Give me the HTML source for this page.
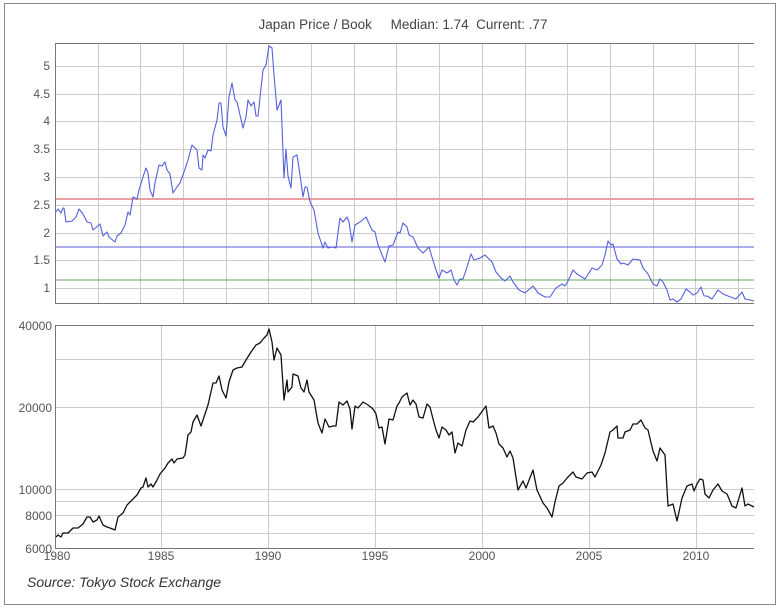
<!DOCTYPE html>
<html><head><meta charset="utf-8"><style>
html,body{margin:0;padding:0;background:#fff;}
svg{display:block;font-family:"Liberation Sans",sans-serif;}
</style></head><body>
<svg width="781" height="608" viewBox="0 0 781 608" xmlns="http://www.w3.org/2000/svg">
<rect x="4.5" y="3.5" width="771" height="601" fill="#fff" stroke="#888"/>
<text x="403" y="29" text-anchor="middle" font-size="13.5" fill="#444" xml:space="preserve">Japan Price / Book     Median: 1.74  Current: .77</text>
<g stroke="#ccc" stroke-width="1">
<line x1="55" x2="754" y1="66.5" y2="66.5"/><line x1="55" x2="754" y1="94.5" y2="94.5"/><line x1="55" x2="754" y1="121.5" y2="121.5"/><line x1="55" x2="754" y1="149.5" y2="149.5"/><line x1="55" x2="754" y1="177.5" y2="177.5"/><line x1="55" x2="754" y1="205.5" y2="205.5"/><line x1="55" x2="754" y1="233.5" y2="233.5"/><line x1="55" x2="754" y1="260.5" y2="260.5"/><line x1="55" x2="754" y1="288.5" y2="288.5"/>
<line x1="98.5" x2="98.5" y1="43" y2="303"/><line x1="140.5" x2="140.5" y1="43" y2="303"/><line x1="183.5" x2="183.5" y1="43" y2="303"/><line x1="226.5" x2="226.5" y1="43" y2="303"/><line x1="268.5" x2="268.5" y1="43" y2="303"/><line x1="311.5" x2="311.5" y1="43" y2="303"/><line x1="354.5" x2="354.5" y1="43" y2="303"/><line x1="396.5" x2="396.5" y1="43" y2="303"/><line x1="439.5" x2="439.5" y1="43" y2="303"/><line x1="482.5" x2="482.5" y1="43" y2="303"/><line x1="525.5" x2="525.5" y1="43" y2="303"/><line x1="567.5" x2="567.5" y1="43" y2="303"/><line x1="610.5" x2="610.5" y1="43" y2="303"/><line x1="653.5" x2="653.5" y1="43" y2="303"/><line x1="695.5" x2="695.5" y1="43" y2="303"/><line x1="738.5" x2="738.5" y1="43" y2="303"/>
<line x1="55" x2="754" y1="359.5" y2="359.5"/><line x1="55" x2="754" y1="407.5" y2="407.5"/><line x1="55" x2="754" y1="489.5" y2="489.5"/><line x1="55" x2="754" y1="501.5" y2="501.5"/><line x1="55" x2="754" y1="515.5" y2="515.5"/><line x1="55" x2="754" y1="533.5" y2="533.5"/>
<line x1="161.5" x2="161.5" y1="325" y2="548"/><line x1="268.5" x2="268.5" y1="325" y2="548"/><line x1="375.5" x2="375.5" y1="325" y2="548"/><line x1="482.5" x2="482.5" y1="325" y2="548"/><line x1="589.5" x2="589.5" y1="325" y2="548"/><line x1="696.5" x2="696.5" y1="325" y2="548"/>
</g>
<line x1="55" x2="754" y1="199" y2="199" stroke="#e8a0a0" stroke-width="2"/>
<line x1="55" x2="754" y1="247" y2="247" stroke="#5a5ad0" stroke-width="1"/>
<line x1="55" x2="754" y1="280" y2="280" stroke="#60b060" stroke-width="1"/>
<g stroke="#777" stroke-width="1" fill="none">
<polyline points="754,43.5 55.5,43.5 55.5,303.5 754,303.5"/>
<polyline points="754,325.5 55.5,325.5 55.5,548.5 754,548.5"/>
</g>
<g font-size="12" fill="#555" text-anchor="end">
<text x="50" y="70">5</text><text x="50" y="98">4.5</text><text x="50" y="125">4</text><text x="50" y="153">3.5</text><text x="50" y="181">3</text><text x="50" y="209">2.5</text><text x="50" y="237">2</text><text x="50" y="264">1.5</text><text x="50" y="292">1</text>
<text x="52" y="330">40000</text><text x="52" y="412">20000</text><text x="52" y="494">10000</text><text x="52" y="520">8000</text><text x="52" y="553">6000</text>
</g>
<g font-size="12" fill="#555" text-anchor="middle">
<text x="57" y="560">1980</text><text x="161" y="560">1985</text><text x="268" y="560">1990</text><text x="375" y="560">1995</text><text x="482" y="560">2000</text><text x="589" y="560">2005</text><text x="696" y="560">2010</text>
</g>
<polyline fill="none" stroke="#5560dd" stroke-width="1.1" stroke-linejoin="round" points="56,212 58,209 61,213 63,208 64,208 66,222 72,221 76,217 79,209 83,214 87,222 91,223 93,230 100,224 103,236 107,232 109,237 115,242 117,236 121,233 125,225 128,212 130,215 133,197 137,199 139,190 143,177 146,168 148,173 150,190 153,197 155,183 159,165 162,166 165,162 167,170 170,174 173,193 177,187 180,183 184,172 188,160 192,145 197,150 199,168 202,170 203,155 205,158 208,150 211,151 213,135 217,120 219,103 221,103 223,127 226,136 229,97 232,83 235,100 237,102 243,128 246,117 248,100 251,106 254,102 256,116 258,116 263,70 266,65 269,46 272,48 274,75 277,110 281,100 284,178 286,149 288,176 291,188 293,157 297,155 300,175 303,197 305,187 307,187 310,202 314,210 318,233 323,248 325,242 328,248 332,247 336,248 340,218 343,222 347,217 349,222 352,242 355,225 360,222 366,217 372,230 375,232 378,245 385,262 389,246 393,245 398,232 400,233 403,223 407,227 409,235 413,237 418,248 423,253 429,247 435,267 439,278 442,270 447,273 451,270 454,280 457,285 460,279 463,279 467,267 471,254 474,260 480,258 485,255 492,262 496,272 501,278 505,281 510,276 513,282 519,290 525,293 533,286 538,293 545,297 550,297 556,288 562,284 565,286 568,281 573,270 577,274 585,279 592,268 597,270 602,265 605,255 608,241 611,245 613,244 617,259 621,264 623,263 628,265 633,259 640,260 643,268 648,274 653,284 657,286 660,279 663,282 667,290 670,300 673,299 677,302 681,299 686,289 690,292 693,295 697,293 701,287 704,296 707,296 712,299 718,290 723,294 728,296 736,299 742,292 745,299 750,300 754,301"/>
<polyline fill="none" stroke="#111" stroke-width="1.3" stroke-linejoin="round" points="56,537 58,535 61,537 63,533 68,533 73,528 78,528 83,524 87,517 90,517 93,522 97,520 99,516 103,525 107,527 110,528 115,530 118,517 123,513 127,505 132,500 137,495 141,488 143,487 146,478 148,487 151,484 153,487 157,480 160,474 165,468 168,463 172,459 174,463 177,459 183,458 185,455 188,435 191,432 193,422 197,415 201,426 204,417 208,405 213,383 216,383 219,376 222,390 226,398 229,382 233,370 237,368 242,367 246,360 251,352 256,345 260,343 264,338 267,335 269,329 272,342 274,360 277,348 281,355 284,400 287,380 288,392 292,387 293,374 298,376 301,388 304,392 307,380 309,392 314,400 318,423 322,433 325,419 329,427 333,426 336,426 339,402 343,405 347,401 350,409 352,429 355,406 358,408 363,402 368,405 373,409 376,414 379,428 382,427 385,444 389,419 393,420 397,406 399,403 402,397 407,393 410,405 413,400 416,404 419,417 423,418 427,404 430,407 433,419 436,430 439,438 442,427 446,430 449,435 452,432 455,453 458,443 462,446 466,430 470,421 473,422 478,417 486,406 489,428 493,426 496,433 499,444 503,448 507,457 510,451 513,458 518,490 523,481 526,488 533,470 537,490 543,503 547,508 552,517 555,502 559,486 563,483 568,477 573,472 576,477 582,479 587,473 592,472 595,477 601,465 605,453 610,432 613,430 617,426 618,438 623,438 625,432 630,430 633,424 637,424 641,420 645,428 648,430 653,451 657,461 660,448 665,455 668,506 673,504 677,521 682,498 687,486 692,484 694,491 697,484 700,479 703,480 705,494 709,498 713,490 718,484 722,491 727,494 732,506 736,508 742,488 745,506 748,504 754,507"/>
<text x="27" y="587" font-size="14" font-style="italic" fill="#333">Source: Tokyo Stock Exchange</text>
</svg>
</body></html>
